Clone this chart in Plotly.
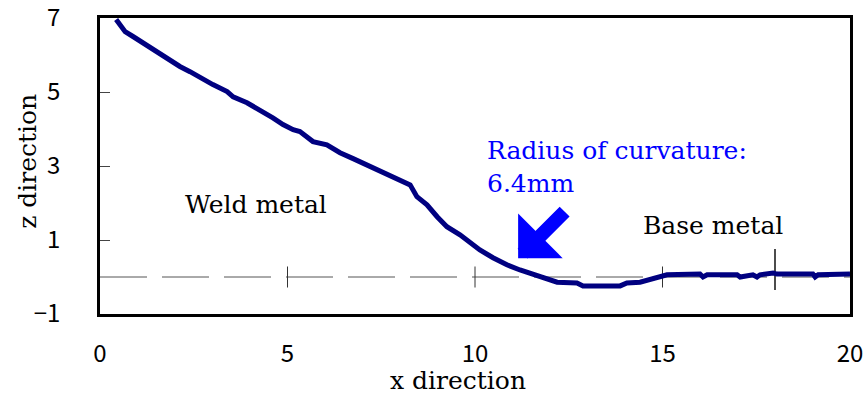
import plotly.graph_objects as go

# Profile data (x direction, z direction)
curve_x = [0.43, 0.67, 0.88, 1.12, 1.33, 1.55, 1.87, 2.13, 2.40, 2.67, 3.01, 3.39, 3.55, 3.92,
           4.27, 4.61, 4.88, 5.15, 5.33, 5.52, 5.68, 6.05, 6.40, 6.75, 7.12, 7.47, 7.81, 8.27,
           8.45, 8.72, 8.99, 9.25, 9.60, 9.95, 10.13, 10.48, 10.85, 11.20, 11.73, 12.19, 12.72,
           12.88, 13.87, 14.05, 14.40, 14.75, 15.12, 16.00, 16.08, 16.19, 16.99, 17.07, 17.25,
           17.41, 17.52, 17.60, 17.95, 18.05, 19.01, 19.07, 19.15, 20.00]
curve_z = [6.96, 6.63, 6.50, 6.34, 6.20, 6.06, 5.87, 5.69, 5.55, 5.39, 5.20, 5.01, 4.87, 4.71,
           4.52, 4.30, 4.12, 3.98, 3.93, 3.79, 3.66, 3.57, 3.36, 3.20, 3.03, 2.84, 2.71, 2.49,
           2.17, 1.95, 1.63, 1.36, 1.14, 0.87, 0.73, 0.52, 0.33, 0.19, 0.00, -0.14, -0.16,
           -0.24, -0.24, -0.16, -0.14, -0.03, 0.06, 0.08, 0.00, 0.06, 0.06, 0.00, 0.03,
           0.06, 0.00, 0.06, 0.11, 0.08, 0.08, 0.00, 0.06, 0.08]

ref_line_x = [0, 20]
ref_line_z = [0, 0]
cross_x = [5, 10, 15]
cross_z = [0, 0, 0]
boundary_x = [18, 18]
boundary_z = [-0.35, 0.76]

x_ticks = [0, 5, 10, 15, 20]
y_ticks = [-1, 1, 3, 5, 7]

serif = "DejaVu Serif"
sans = "Noto Sans CJK JP"

fig = go.Figure()
fig.add_trace(go.Scatter(x=ref_line_x, y=ref_line_z, mode="lines",
                         line=dict(color="#555555", width=1, dash="47px,15px"),
                         hoverinfo="skip"))
fig.add_trace(go.Scatter(x=cross_x, y=cross_z, mode="markers",
                         marker=dict(symbol="line-ns-open", size=15, color="#333333",
                                     line=dict(color="#333333", width=1)),
                         hoverinfo="skip"))
fig.add_trace(go.Scatter(x=boundary_x, y=boundary_z, mode="lines",
                         line=dict(color="#111111", width=1.5), hoverinfo="skip"))
fig.add_trace(go.Scatter(x=curve_x, y=curve_z, mode="lines",
                         line=dict(color="#000080", width=5)))

fig.add_annotation(x=11.15, y=0.51, xref="x", yref="y", text="", showarrow=True,
                   ax=48, ay=-48, arrowhead=1, arrowsize=0.75, arrowwidth=14,
                   arrowcolor="#0000FF")

fig.add_annotation(x=4.16, y=1.95, xref="x", yref="y", text="Weld metal", showarrow=False,
                   font=dict(family=serif, size=25, color="black"))
fig.add_annotation(x=16.35, y=1.38, xref="x", yref="y", text="Base metal", showarrow=False,
                   font=dict(family=serif, size=25, color="black"))
fig.add_annotation(x=10.27, y=3.41, xref="x", yref="y", text="Radius of curvature:",
                   showarrow=False, xanchor="left",
                   font=dict(family=serif, size=25, color="#0000FF"))
fig.add_annotation(x=10.27, y=2.52, xref="x", yref="y", text="6.4mm",
                   showarrow=False, xanchor="left",
                   font=dict(family=serif, size=25, color="#0000FF"))

fig.add_annotation(x=0.477, y=-0.226, xref="paper", yref="paper", text="x direction",
                   showarrow=False, xanchor="center", yanchor="middle",
                   font=dict(family=serif, size=25, color="black"))
fig.add_annotation(x=-0.096, y=0.514, xref="paper", yref="paper", text="z direction",
                   showarrow=False, textangle=-90, xanchor="center", yanchor="middle",
                   font=dict(family=serif, size=25, color="black"))

fig.update_layout(
    width=864, height=396,
    margin=dict(l=100, r=14, t=18, b=82),
    paper_bgcolor="white", plot_bgcolor="white",
    showlegend=False,
    xaxis=dict(range=[0, 20], tickvals=x_ticks, ticks="", showgrid=False, zeroline=False,
               showline=True, linecolor="black", linewidth=2.5, mirror=True,
               automargin=False, ticklabeloverflow="allow",
               tickfont=dict(family=sans, size=24, color="black"), ticklabelstandoff=16),
    yaxis=dict(range=[-1, 7], tickvals=y_ticks, ticks="inside", ticklen=10, tickwidth=1,
               tickcolor="#444444", showgrid=False, zeroline=False,
               showline=True, linecolor="black", linewidth=2.5, mirror=True,
               automargin=False, ticklabeloverflow="allow",
               tickfont=dict(family=sans, size=24, color="black"), ticklabelstandoff=32),
)

fig.write_html("out.html")
